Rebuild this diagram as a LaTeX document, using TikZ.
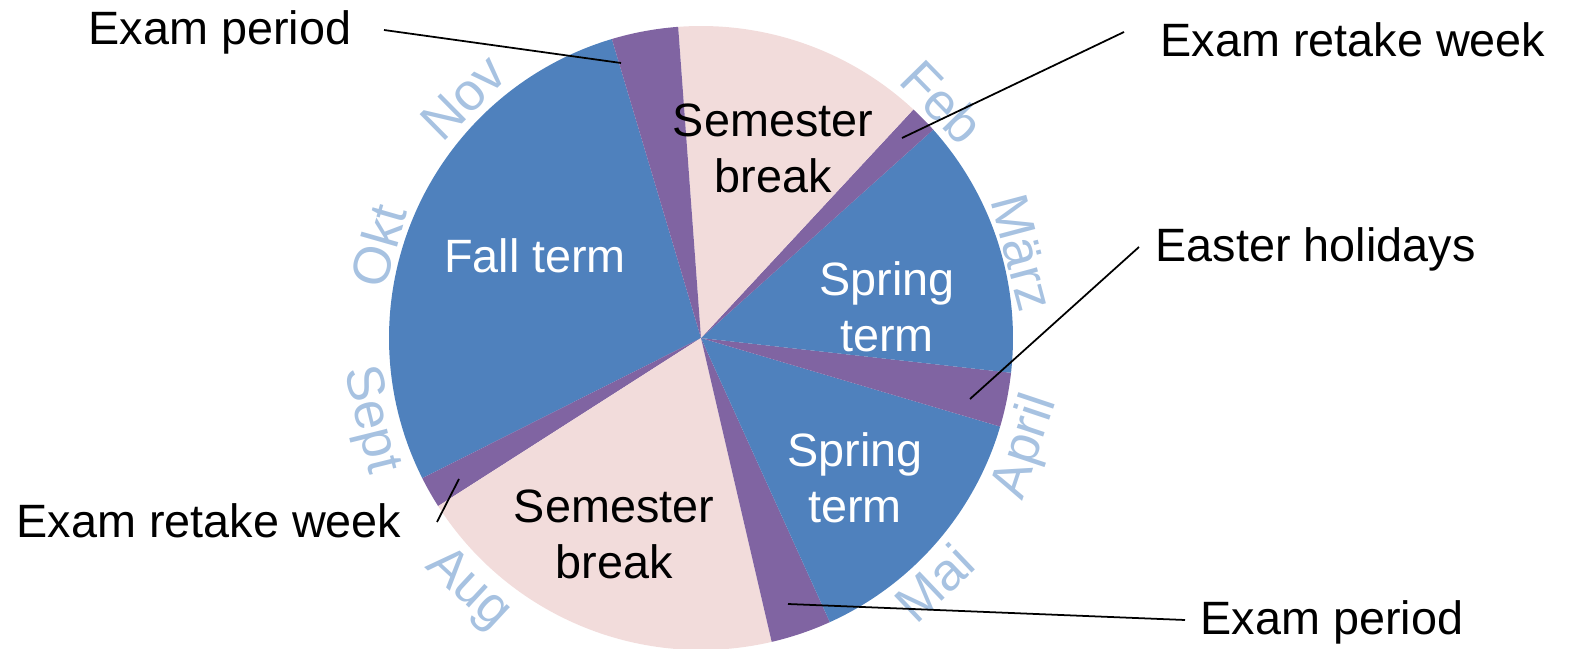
\documentclass[tikz,border=0pt]{standalone}
\usepackage{fontspec}
\setmainfont{Liberation Sans}
\definecolor{termblue}{HTML}{4F81BD}
\definecolor{exampurple}{HTML}{8064A2}
\definecolor{breakpink}{HTML}{F2DCDB}
\definecolor{monthblue}{HTML}{A7C2E1}

\begin{document}
\begin{tikzpicture}[
    x=0.01cm, y=0.01cm,
    slicelabel/.style={align=center, inner sep=0pt, font=\fontsize{13.3}{15.9}\selectfont},
    calloutlabel/.style={anchor=base west, inner sep=0pt, font=\fontsize{13.3}{15.9}\selectfont},
    monthlabel/.style={inner sep=0pt, text=monthblue, font=\fontsize{15}{18}\selectfont},
    callout/.style={draw=black, line width=0.5pt},
    ]
    \useasboundingbox (-701,-311) rectangle (872,338);

    % Slices of the year
    \foreach \a/\b/\c in {106.6/206.7/termblue, 206.7/212.6/exampurple, 212.6/283.1/breakpink,
        283.1/294.4/exampurple, 294.4/343.5/termblue, 343.5/353.6/exampurple,
        353.6/401.9/termblue, 41.9/47.1/exampurple, 47.1/94.2/breakpink, 94.2/106.6/exampurple}
      \fill[\c] (0,0) -- (\a:312) arc[start angle=\a, end angle=\b, radius=312] -- cycle;

    % Slice labels
    \node[slicelabel, text=white] (fall) at (-166,82) {Fall term};
    \node[slicelabel] (breaktop) at (72,190) {Semester\\break};
    \node[slicelabel, text=white] (springtop) at (186,31) {Spring\\term};
    \node[slicelabel, text=white] (springbot) at (154,-140) {Spring\\term};
    \node[slicelabel] (breakbot) at (-87,-196) {Semester\\break};

    % Months
    \node[monthlabel, rotate=44.6] (nov) at (134.6:338) {Nov};
    \node[monthlabel, rotate=74] (okt) at (164:336) {Okt};
    \node[monthlabel, rotate=-76.1] (sept) at (193.9:341) {Sept};
    \node[monthlabel, rotate=-42.8] (aug) at (227.2:343) {Aug};
    \node[monthlabel, rotate=43.6] (mai) at (-46.4:338) {Mai};
    \node[monthlabel, rotate=71.5] (april) at (-18.5:343) {April};
    \node[monthlabel, rotate=-75.1] (maerz) at (14.9:333) {März};
    \node[monthlabel, rotate=-45.6] (feb) at (44.4:338) {Feb};

    % Callouts
    \node[calloutlabel] (examtop) at (-613,293) {Exam period};
    \node[calloutlabel] (retaketop) at (459,281) {Exam retake week};
    \node[calloutlabel] (easter) at (454,76) {Easter holidays};
    \node[calloutlabel] (exambot) at (499,-297) {Exam period};
    \node[calloutlabel] (retakebot) at (-685,-200) {Exam retake week};

    \coordinate (examtopA) at (-317,308);
    \coordinate (examtopB) at (-80,275);
    \coordinate (retaketopA) at (423,306);
    \coordinate (retaketopB) at (201,200);
    \coordinate (easterA) at (438,91);
    \coordinate (easterB) at (269,-61);
    \coordinate (exambotA) at (484,-282);
    \coordinate (exambotB) at (87,-266);
    \coordinate (retakebotA) at (-242,-141);
    \coordinate (retakebotB) at (-264,-184);

    \draw[callout] (examtopA) -- (examtopB);
    \draw[callout] (retaketopA) -- (retaketopB);
    \draw[callout] (easterA) -- (easterB);
    \draw[callout] (exambotA) -- (exambotB);
    \draw[callout] (retakebotA) -- (retakebotB);

\end{tikzpicture}
\end{document}
